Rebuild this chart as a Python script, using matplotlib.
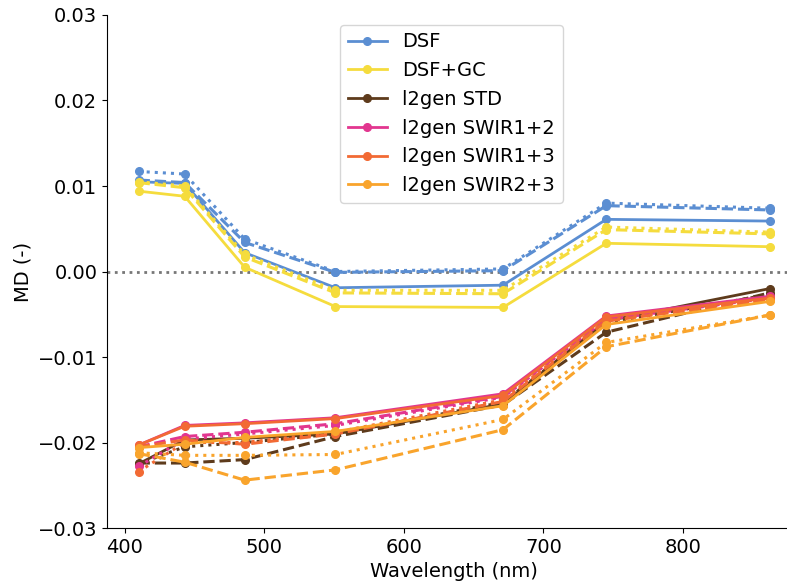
import matplotlib
matplotlib.use('Agg')
import matplotlib.pyplot as plt
import numpy as np

# VIIRS bands (nm)
wavelengths = [410, 443, 486, 551, 671, 745, 862]

methods = ['DSF', 'DSF+GC', 'l2gen STD', 'l2gen SWIR1+2', 'l2gen SWIR1+3', 'l2gen SWIR2+3']
colors = ['#5b8ed2', '#f5dc3d', '#5e3b1c', '#e2368f', '#f26a34', '#f9a42c']

# mean difference per method: solid / dashed / dotted
dsf_solid = [0.0105, 0.0103, 0.0022, -0.0019, -0.0016, 0.0061, 0.0059]
dsf_dashed = [0.0107, 0.0104, 0.0034, -0.0001, 0.0001, 0.0077, 0.0072]
dsf_dotted = [0.0117, 0.0114, 0.0038, 0.0000, 0.0003, 0.0080, 0.0074]

gc_solid = [0.0094, 0.0088, 0.0005, -0.0041, -0.0042, 0.0033, 0.0029]
gc_dashed = [0.0104, 0.0098, 0.0017, -0.0025, -0.0026, 0.0049, 0.0044]
gc_dotted = [0.0105, 0.0100, 0.0020, -0.0022, -0.0022, 0.0052, 0.0046]

std_solid = [-0.0225, -0.0197, -0.0195, -0.0190, -0.0155, -0.0058, -0.0020]
std_dashed = [-0.0224, -0.0224, -0.0220, -0.0193, -0.0156, -0.0071, -0.0025]
std_dotted = [-0.0225, -0.0205, -0.0200, -0.0190, -0.0153, -0.0060, -0.0027]

s12_solid = [-0.0203, -0.0180, -0.0177, -0.0171, -0.0143, -0.0052, -0.0029]
s12_dashed = [-0.0205, -0.0193, -0.0188, -0.0178, -0.0146, -0.0055, -0.0030]
s12_dotted = [-0.0228, -0.0196, -0.0190, -0.0180, -0.0147, -0.0056, -0.0031]

s13_solid = [-0.0203, -0.0181, -0.0178, -0.0172, -0.0145, -0.0053, -0.0031]
s13_dashed = [-0.0205, -0.0197, -0.0202, -0.0190, -0.0152, -0.0058, -0.0033]
s13_dotted = [-0.0234, -0.0200, -0.0200, -0.0188, -0.0150, -0.0057, -0.0032]

s23_solid = [-0.0206, -0.0202, -0.0194, -0.0187, -0.0157, -0.0062, -0.0035]
s23_dashed = [-0.0213, -0.0223, -0.0244, -0.0232, -0.0185, -0.0088, -0.0051]
s23_dotted = [-0.0212, -0.0215, -0.0215, -0.0214, -0.0173, -0.0083, -0.0051]

series = [
    (dsf_solid, dsf_dashed, dsf_dotted),
    (gc_solid, gc_dashed, gc_dotted),
    (std_solid, std_dashed, std_dotted),
    (s12_solid, s12_dashed, s12_dotted),
    (s13_solid, s13_dashed, s13_dotted),
    (s23_solid, s23_dashed, s23_dotted),
]

plt.rcParams['font.size'] = 14

fig = plt.figure(figsize=(7.87, 5.88), dpi=100)
ax = fig.add_axes([0.136, 0.102, 0.882, 0.8725])

ax.axhline(0, color='#777777', linestyle=':', linewidth=2, zorder=1)

for name, col, (sol, das, dot) in zip(methods, colors, series):
    ax.plot(wavelengths, sol, '-o', color=col, linewidth=2, markersize=5.5, label=name)
    ax.plot(wavelengths, das, '--o', color=col, linewidth=2.2, markersize=5.5)
    ax.plot(wavelengths, dot, ':o', color=col, linewidth=2.2, markersize=5.5)

ax.set_ylim(-0.03, 0.03)
ax.set_yticks(np.arange(-0.03, 0.031, 0.01))
ax.set_yticklabels(['\u22120.03', '\u22120.02', '\u22120.01', '0.00', '0.01', '0.02', '0.03'])
ax.set_xticks([400, 500, 600, 700, 800])
ax.spines['top'].set_visible(False)
ax.spines['right'].set_visible(False)
ax.set_xlabel('Wavelength (nm)')
ax.set_ylabel('MD (-)')
ax.legend(loc='upper center', bbox_to_anchor=(0.496, 1.0))

fig.savefig('out.png', dpi=100)
